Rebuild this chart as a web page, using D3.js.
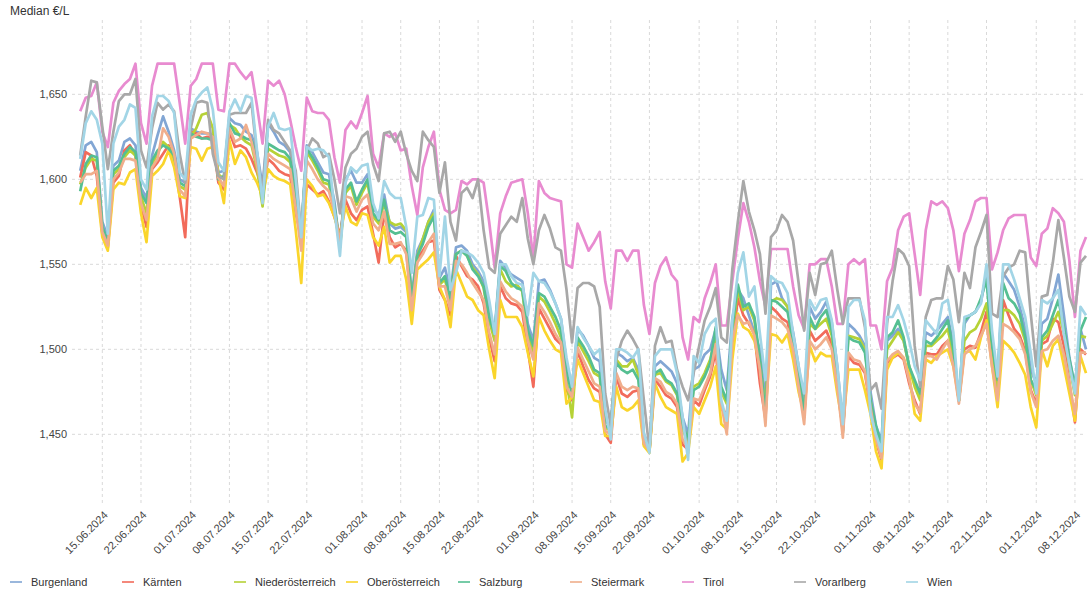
<!DOCTYPE html>
<html><head><meta charset="utf-8">
<script src="https://cdn.jsdelivr.net/npm/d3@7"></script>
<style>
body{margin:0;background:#fff;}
svg{font-family:"Liberation Sans",Arial,sans-serif;}
</style></head>
<body><svg id="chart" width="1092" height="600"></svg>
<script>
const startDate = "11.06.2024";
const yTickValues = [1.45, 1.50, 1.55, 1.60, 1.65];
const xTickLabels = ["15.06.2024","22.06.2024","01.07.2024","08.07.2024","15.07.2024","22.07.2024","01.08.2024","08.08.2024","15.08.2024","22.08.2024","01.09.2024","08.09.2024","15.09.2024","22.09.2024","01.10.2024","08.10.2024","15.10.2024","22.10.2024","01.11.2024","08.11.2024","15.11.2024","22.11.2024","01.12.2024","08.12.2024"];
const seriesNames = ["Burgenland","Kärnten","Niederösterreich","Oberösterreich","Salzburg","Steiermark","Tirol","Vorarlberg","Wien"];
const seriesColors = ["#82a6d4","#f26b5b","#b6d236","#fad52b","#55bf92","#f0ae8c","#e88bd0","#a8a8a8","#a2d5e6"];

const burgenland = [
1.605,1.620,1.622,1.616,1.575,1.566,1.608,
1.611,1.622,1.624,1.620,1.595,1.589,1.614,
1.626,1.637,1.628,1.617,1.600,1.598,1.630,
1.628,1.627,1.627,1.626,1.604,1.605,1.636,
1.633,1.632,1.628,1.626,1.616,1.596,1.633,
1.628,1.622,1.620,1.616,1.594,1.570,1.620,
1.616,1.610,1.604,1.603,1.587,1.560,1.600,
1.605,1.598,1.598,1.603,1.583,1.579,1.591,
1.574,1.571,1.572,1.569,1.532,1.558,1.565,
1.575,1.582,1.542,1.548,1.534,1.560,1.561,
1.558,1.550,1.546,1.540,1.522,1.511,1.552,
1.548,1.544,1.542,1.540,1.515,1.505,1.540,
1.541,1.535,1.527,1.518,1.492,1.478,1.512,
1.508,1.502,1.495,1.493,1.458,1.455,1.498,
1.496,1.493,1.495,1.488,1.450,1.443,1.490,
1.493,1.490,1.487,1.480,1.460,1.450,1.488,
1.490,1.497,1.500,1.512,1.488,1.476,1.518,
1.535,1.530,1.520,1.510,1.500,1.470,1.538,
1.540,1.530,1.525,1.510,1.490,1.466,1.525,
1.518,1.522,1.528,1.516,1.490,1.456,1.515,
1.512,1.508,1.502,1.475,1.455,1.446,1.505,
1.508,1.512,1.505,1.490,1.480,1.474,1.510,
1.508,1.511,1.515,1.519,1.503,1.470,1.515,
1.520,1.522,1.528,1.545,1.505,1.482,1.545,
1.540,1.535,1.525,1.512,1.488,1.480,1.515,
1.518,1.530,1.544,1.520,1.495,1.478,1.512,
1.500];

const kaernten = [
1.601,1.616,1.614,1.602,1.568,1.560,1.598,
1.602,1.617,1.620,1.614,1.585,1.572,1.606,
1.610,1.615,1.620,1.612,1.590,1.566,1.628,
1.627,1.624,1.625,1.624,1.598,1.594,1.628,
1.619,1.620,1.618,1.612,1.604,1.595,1.612,
1.609,1.605,1.603,1.602,1.580,1.566,1.597,
1.594,1.591,1.593,1.587,1.578,1.567,1.588,
1.580,1.576,1.582,1.584,1.568,1.551,1.580,
1.566,1.560,1.562,1.558,1.523,1.553,1.558,
1.563,1.564,1.535,1.529,1.520,1.555,1.549,
1.543,1.541,1.537,1.527,1.507,1.493,1.537,
1.530,1.527,1.526,1.522,1.500,1.478,1.524,
1.518,1.512,1.506,1.503,1.476,1.470,1.499,
1.490,1.482,1.477,1.475,1.450,1.445,1.484,
1.474,1.472,1.475,1.476,1.444,1.440,1.482,
1.478,1.473,1.471,1.466,1.444,1.441,1.470,
1.467,1.476,1.484,1.499,1.465,1.462,1.502,
1.530,1.520,1.515,1.509,1.480,1.459,1.525,
1.522,1.518,1.516,1.500,1.480,1.460,1.511,
1.505,1.508,1.511,1.503,1.479,1.452,1.496,
1.492,1.491,1.486,1.465,1.446,1.435,1.492,
1.495,1.497,1.494,1.480,1.470,1.462,1.498,
1.497,1.497,1.502,1.505,1.494,1.470,1.500,
1.502,1.501,1.510,1.522,1.495,1.475,1.529,
1.520,1.512,1.508,1.499,1.476,1.468,1.503,
1.505,1.518,1.516,1.502,1.480,1.457,1.500,
1.497];

const niederoesterreich = [
1.597,1.607,1.612,1.611,1.570,1.562,1.603,
1.606,1.613,1.617,1.614,1.590,1.580,1.609,
1.615,1.622,1.619,1.612,1.596,1.594,1.625,
1.630,1.638,1.639,1.630,1.603,1.600,1.632,
1.630,1.625,1.622,1.620,1.606,1.584,1.618,
1.616,1.614,1.613,1.610,1.590,1.566,1.616,
1.611,1.605,1.598,1.597,1.582,1.560,1.592,
1.596,1.585,1.592,1.598,1.578,1.574,1.586,
1.575,1.573,1.574,1.570,1.527,1.555,1.565,
1.575,1.580,1.538,1.541,1.528,1.556,1.558,
1.555,1.548,1.544,1.536,1.517,1.505,1.547,
1.540,1.537,1.538,1.534,1.508,1.498,1.531,
1.528,1.522,1.515,1.507,1.482,1.460,1.505,
1.499,1.493,1.486,1.484,1.454,1.452,1.494,
1.490,1.490,1.494,1.485,1.446,1.440,1.485,
1.486,1.481,1.479,1.473,1.453,1.445,1.478,
1.480,1.486,1.494,1.508,1.475,1.468,1.511,
1.535,1.523,1.525,1.517,1.492,1.465,1.528,
1.530,1.529,1.525,1.503,1.483,1.462,1.515,
1.512,1.515,1.518,1.508,1.483,1.455,1.508,
1.507,1.506,1.500,1.470,1.452,1.440,1.500,
1.505,1.510,1.505,1.490,1.478,1.470,1.502,
1.502,1.505,1.508,1.512,1.496,1.470,1.505,
1.510,1.512,1.518,1.527,1.500,1.478,1.523,
1.523,1.520,1.515,1.505,1.482,1.473,1.505,
1.508,1.515,1.522,1.510,1.490,1.473,1.508,
1.507];

const oberoesterreich = [
1.585,1.595,1.589,1.595,1.566,1.558,1.594,
1.598,1.597,1.604,1.606,1.580,1.563,1.602,
1.605,1.609,1.617,1.607,1.590,1.589,1.619,
1.618,1.611,1.618,1.619,1.602,1.586,1.623,
1.609,1.617,1.613,1.604,1.598,1.590,1.606,
1.602,1.600,1.599,1.597,1.570,1.539,1.600,
1.596,1.590,1.591,1.586,1.578,1.566,1.584,
1.575,1.573,1.580,1.579,1.566,1.561,1.572,
1.551,1.555,1.555,1.541,1.515,1.547,1.550,
1.553,1.557,1.537,1.529,1.513,1.547,1.539,
1.531,1.529,1.523,1.520,1.500,1.483,1.529,
1.519,1.519,1.519,1.513,1.498,1.484,1.519,
1.511,1.505,1.500,1.498,1.468,1.472,1.494,
1.486,1.478,1.470,1.469,1.449,1.449,1.478,
1.466,1.464,1.466,1.470,1.443,1.439,1.480,
1.472,1.466,1.464,1.462,1.434,1.439,1.466,
1.462,1.470,1.478,1.490,1.456,1.453,1.494,
1.521,1.513,1.511,1.505,1.490,1.462,1.509,
1.508,1.504,1.509,1.494,1.475,1.462,1.502,
1.493,1.498,1.496,1.496,1.474,1.455,1.488,
1.488,1.488,1.476,1.462,1.440,1.430,1.488,
1.495,1.498,1.495,1.485,1.462,1.458,1.494,
1.492,1.496,1.498,1.500,1.490,1.470,1.498,
1.499,1.494,1.507,1.517,1.490,1.466,1.505,
1.502,1.498,1.492,1.485,1.466,1.454,1.500,
1.490,1.502,1.506,1.490,1.474,1.458,1.496,
1.486];

const salzburg = [
1.593,1.609,1.614,1.613,1.572,1.564,1.605,
1.608,1.615,1.619,1.616,1.592,1.586,1.611,
1.617,1.620,1.618,1.614,1.598,1.596,1.627,
1.625,1.624,1.624,1.623,1.600,1.602,1.633,
1.627,1.626,1.624,1.623,1.613,1.587,1.621,
1.619,1.617,1.616,1.612,1.592,1.568,1.618,
1.613,1.607,1.600,1.599,1.584,1.562,1.594,
1.598,1.587,1.594,1.600,1.580,1.576,1.588,
1.570,1.568,1.569,1.566,1.529,1.555,1.562,
1.572,1.578,1.539,1.543,1.530,1.556,1.558,
1.555,1.547,1.543,1.537,1.519,1.509,1.549,
1.546,1.539,1.536,1.535,1.511,1.502,1.533,
1.531,1.525,1.519,1.511,1.486,1.474,1.507,
1.502,1.496,1.488,1.486,1.455,1.453,1.492,
1.488,1.486,1.488,1.482,1.447,1.441,1.486,
1.488,1.482,1.480,1.474,1.455,1.447,1.476,
1.478,1.484,1.492,1.513,1.478,1.470,1.513,
1.538,1.525,1.527,1.519,1.494,1.462,1.529,
1.528,1.525,1.522,1.505,1.485,1.462,1.519,
1.512,1.519,1.523,1.511,1.484,1.451,1.507,
1.505,1.504,1.498,1.470,1.455,1.443,1.507,
1.510,1.517,1.507,1.490,1.482,1.474,1.505,
1.503,1.507,1.512,1.517,1.500,1.470,1.517,
1.520,1.522,1.530,1.541,1.502,1.482,1.539,
1.530,1.527,1.521,1.507,1.482,1.476,1.507,
1.511,1.520,1.529,1.513,1.494,1.478,1.511,
1.519];

const steiermark = [
1.598,1.603,1.603,1.605,1.569,1.561,1.600,
1.604,1.612,1.612,1.611,1.586,1.576,1.607,
1.612,1.630,1.625,1.615,1.594,1.590,1.624,
1.626,1.628,1.627,1.625,1.601,1.596,1.630,
1.622,1.624,1.632,1.622,1.608,1.592,1.615,
1.612,1.610,1.608,1.606,1.583,1.558,1.611,
1.606,1.600,1.596,1.593,1.581,1.563,1.590,
1.589,1.581,1.588,1.591,1.574,1.570,1.581,
1.562,1.562,1.563,1.556,1.523,1.551,1.556,
1.563,1.568,1.537,1.537,1.523,1.552,1.550,
1.545,1.539,1.534,1.529,1.510,1.497,1.540,
1.534,1.530,1.528,1.525,1.505,1.494,1.527,
1.522,1.516,1.509,1.504,1.478,1.472,1.501,
1.494,1.487,1.480,1.478,1.452,1.450,1.486,
1.478,1.476,1.478,1.477,1.445,1.440,1.483,
1.481,1.475,1.473,1.468,1.447,1.442,1.471,
1.470,1.478,1.486,1.503,1.468,1.450,1.505,
1.520,1.515,1.516,1.508,1.488,1.455,1.520,
1.518,1.516,1.512,1.500,1.478,1.456,1.505,
1.500,1.503,1.507,1.500,1.478,1.448,1.498,
1.494,1.493,1.487,1.466,1.447,1.436,1.493,
1.497,1.499,1.495,1.482,1.468,1.463,1.496,
1.496,1.494,1.500,1.505,1.490,1.468,1.497,
1.500,1.502,1.508,1.515,1.490,1.470,1.515,
1.513,1.510,1.506,1.497,1.475,1.466,1.499,
1.500,1.505,1.508,1.497,1.480,1.462,1.498,
1.498];

const tirol = [
1.640,1.648,1.649,1.657,1.628,1.619,1.645,
1.652,1.656,1.659,1.668,1.633,1.621,1.655,
1.668,1.668,1.668,1.668,1.645,1.621,1.655,
1.659,1.668,1.668,1.668,1.641,1.640,1.668,
1.668,1.663,1.659,1.663,1.643,1.621,1.658,
1.655,1.658,1.650,1.635,1.619,1.605,1.648,
1.640,1.639,1.639,1.635,1.613,1.598,1.629,
1.634,1.630,1.639,1.649,1.615,1.607,1.627,
1.625,1.627,1.617,1.618,1.596,1.579,1.607,
1.619,1.628,1.594,1.582,1.580,1.582,1.599,
1.597,1.600,1.600,1.598,1.575,1.548,1.580,
1.590,1.598,1.599,1.600,1.580,1.553,1.599,
1.592,1.589,1.588,1.587,1.550,1.548,1.574,
1.566,1.558,1.563,1.569,1.540,1.524,1.558,
1.558,1.552,1.558,1.558,1.526,1.509,1.539,
1.549,1.554,1.544,1.540,1.507,1.494,1.519,
1.516,1.530,1.539,1.550,1.514,1.514,1.540,
1.565,1.586,1.575,1.560,1.540,1.525,1.559,
1.559,1.559,1.559,1.537,1.520,1.512,1.550,
1.550,1.553,1.553,1.537,1.515,1.515,1.550,
1.553,1.550,1.553,1.514,1.514,1.500,1.540,
1.548,1.570,1.578,1.580,1.556,1.532,1.570,
1.587,1.585,1.587,1.583,1.570,1.546,1.568,
1.576,1.587,1.589,1.589,1.547,1.557,1.570,
1.577,1.579,1.579,1.579,1.554,1.549,1.568,
1.571,1.583,1.580,1.575,1.552,1.519,1.558,
1.566];

const vorarlberg = [
1.614,1.637,1.658,1.657,1.631,1.606,1.628,
1.646,1.650,1.650,1.659,1.617,1.607,1.630,
1.645,1.641,1.644,1.640,1.615,1.598,1.630,
1.645,1.646,1.645,1.615,1.602,1.600,1.638,
1.639,1.639,1.639,1.645,1.614,1.592,1.635,
1.629,1.627,1.622,1.617,1.605,1.568,1.617,
1.624,1.621,1.613,1.615,1.600,1.580,1.607,
1.615,1.618,1.625,1.628,1.609,1.599,1.627,
1.628,1.622,1.628,1.615,1.605,1.599,1.628,
1.623,1.619,1.592,1.610,1.575,1.564,1.592,
1.595,1.589,1.600,1.570,1.548,1.545,1.568,
1.573,1.578,1.575,1.589,1.565,1.550,1.570,
1.579,1.571,1.560,1.558,1.535,1.504,1.536,
1.539,1.539,1.537,1.525,1.474,1.455,1.494,
1.505,1.511,1.506,1.500,1.470,1.441,1.502,
1.513,1.504,1.505,1.488,1.478,1.470,1.486,
1.502,1.517,1.525,1.536,1.507,1.504,1.547,
1.575,1.599,1.581,1.570,1.556,1.521,1.566,
1.570,1.579,1.575,1.564,1.539,1.511,1.545,
1.532,1.550,1.551,1.558,1.535,1.515,1.530,
1.530,1.530,1.513,1.476,1.480,1.465,1.515,
1.540,1.559,1.556,1.549,1.502,1.478,1.519,
1.529,1.530,1.530,1.549,1.541,1.516,1.545,
1.536,1.560,1.569,1.579,1.521,1.519,1.543,
1.548,1.550,1.558,1.557,1.521,1.490,1.531,
1.532,1.551,1.576,1.554,1.531,1.522,1.551,
1.555];

const wien = [
1.612,1.633,1.640,1.635,1.621,1.568,1.621,
1.631,1.635,1.644,1.642,1.600,1.594,1.637,
1.649,1.649,1.646,1.639,1.604,1.600,1.638,
1.647,1.651,1.654,1.641,1.610,1.605,1.640,
1.647,1.640,1.649,1.648,1.617,1.586,1.631,
1.639,1.630,1.629,1.630,1.600,1.566,1.619,
1.617,1.618,1.617,1.613,1.582,1.555,1.598,
1.607,1.604,1.608,1.609,1.586,1.577,1.599,
1.592,1.589,1.589,1.572,1.545,1.578,1.579,
1.589,1.588,1.543,1.578,1.535,1.545,1.558,
1.557,1.555,1.551,1.545,1.529,1.509,1.550,
1.550,1.543,1.539,1.538,1.520,1.545,1.540,
1.539,1.534,1.527,1.518,1.495,1.478,1.513,
1.507,1.502,1.497,1.500,1.465,1.447,1.500,
1.500,1.498,1.495,1.500,1.451,1.439,1.496,
1.500,1.500,1.500,1.486,1.460,1.435,1.496,
1.492,1.509,1.515,1.518,1.470,1.458,1.517,
1.545,1.557,1.531,1.537,1.509,1.482,1.543,
1.540,1.539,1.533,1.509,1.490,1.474,1.529,
1.523,1.529,1.530,1.517,1.490,1.456,1.525,
1.529,1.529,1.517,1.462,1.450,1.440,1.519,
1.519,1.526,1.517,1.505,1.490,1.482,1.517,
1.513,1.509,1.527,1.529,1.510,1.470,1.519,
1.520,1.522,1.527,1.550,1.511,1.484,1.550,
1.550,1.541,1.530,1.519,1.498,1.474,1.529,
1.527,1.530,1.535,1.509,1.491,1.474,1.525,
1.520];

const seriesData = [burgenland,kaernten,niederoesterreich,oberoesterreich,salzburg,steiermark,tirol,vorarlberg,wien];

const parseDate = d3.timeParse("%d.%m.%Y");
const t0 = parseDate(startDate);
const dates = burgenland.map((_, i) => d3.timeDay.offset(t0, i));

const svg = d3.select("#chart");
const plotTop = 20, plotBottom = 505;
const x = d3.scaleTime().domain([dates[0], dates[dates.length - 1]]).range([80.2, 1086]);
const y = d3.scaleLinear().domain([1.45, 1.65]).range([434.3, 94.3]);

const loc = d3.formatLocale({decimal: ",", thousands: ".", grouping: [3], currency: ["", "€"]});
const fmt = loc.format(".3f");

// horizontal grid + y labels
const yAxis = d3.axisLeft(y).tickValues(yTickValues).tickFormat(fmt).tickSize(0).tickPadding(0);
const gy = svg.append("g").attr("transform", "translate(67,0)").call(yAxis);
gy.select(".domain").remove();
gy.selectAll("text").attr("fill", "#444").style("font-size", "11px").attr("font-family", "Liberation Sans, Arial, sans-serif");
svg.append("g").selectAll("line").data(yTickValues).join("line")
  .attr("x1", 72).attr("x2", 1086).attr("y1", d => y(d)).attr("y2", d => y(d))
  .attr("stroke", "#d9d9d9").attr("stroke-dasharray", "3,3").attr("stroke-width", 1);

// vertical grid + x labels
const tickDates = xTickLabels.map(parseDate);
const xAxis = d3.axisBottom(x).tickValues(tickDates).tickFormat(d3.timeFormat("%d.%m.%Y")).tickSize(0).tickPadding(0);
const gx = svg.append("g").attr("transform", `translate(0,${plotBottom + 8})`).call(xAxis);
gx.select(".domain").remove();
gx.selectAll("text").attr("fill", "#444").style("font-size", "11px")
  .attr("text-anchor", "end").attr("dy", "0.35em")
  .attr("transform", "translate(3,0) rotate(-45)");
svg.append("g").selectAll("line").data(tickDates).join("line")
  .attr("x1", d => x(d)).attr("x2", d => x(d)).attr("y1", plotTop).attr("y2", plotBottom)
  .attr("stroke", "#d9d9d9").attr("stroke-dasharray", "3,3").attr("stroke-width", 1);

// lines
const line = d3.line().x((d, i) => x(dates[i])).y(d => y(d));
svg.append("g").selectAll("path").data(seriesData).join("path")
  .attr("d", d => line(d)).attr("fill", "none")
  .attr("stroke", (d, i) => seriesColors[i]).attr("stroke-width", 2.7)
  .attr("stroke-linejoin", "round");

// title
svg.append("text").attr("x", 10).attr("y", 15).text("Median €/L")
  .attr("fill", "#333").style("font-size", "12px");

// legend
const lg = svg.append("g").selectAll("g").data(seriesNames).join("g")
  .attr("transform", (d, i) => `translate(${10 + i * 112},582)`);
lg.append("line").attr("x1", 0).attr("x2", 12).attr("y1", 0).attr("y2", 0)
  .attr("stroke", (d, i) => seriesColors[i]).attr("stroke-width", 2).attr("opacity", 0.8);
lg.append("text").attr("x", 21).attr("y", 4).text(d => d).attr("fill", "#333").style("font-size", "11px");
</script></body></html>
